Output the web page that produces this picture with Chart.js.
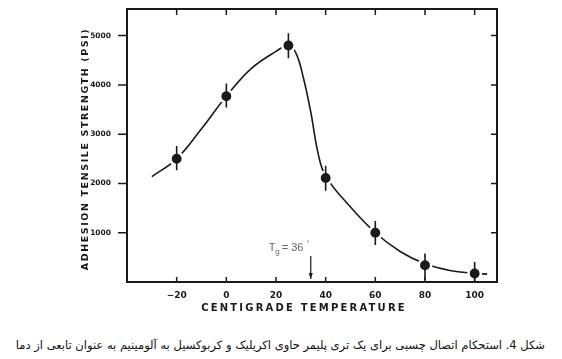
<!DOCTYPE html>
<html>
<head>
<meta charset="utf-8">
<script src="https://cdn.jsdelivr.net/npm/chart.js@4.4.0/dist/chart.umd.min.js"></script>
<style>
  html, body { margin: 0; padding: 0; background: #fff; }
  #wrap { position: relative; width: 562px; height: 359px; }
  #chart { position: absolute; left: 0; top: 0; }
  #caption {
    position: absolute; right: 17px; top: 338px;
    font-family: "DejaVu Sans", sans-serif; font-size: 11.5px; color: #111;
    direction: rtl; white-space: nowrap;
  }
</style>
</head>
<body>
<div id="wrap">
  <canvas id="chart" width="562" height="330"></canvas>
  <div id="caption">شکل 4. استحکام اتصال چسبی برای یک تری پلیمر حاوی اکریلیک و کربوکسیل به آلومینیم به عنوان تابعی از دما</div>
</div>
<script>
// measured points (temperature, strength) with error bars
const temps = [-20, 0, 25, 40, 60, 80, 100];
const strength = [2500, 3770, 4800, 2110, 1000, 340, 175];
const errPlus = [260, 260, 250, 250, 240, 240, 230];
const errMinus = [230, 230, 260, 260, 250, 300, 175];

// smooth fitted curve
const curveT = [-30, -20, -10, 0, 10, 20, 25, 28, 31, 34, 37, 40, 50, 60, 70, 80, 90, 100, 105];
const curveS = [2140, 2500, 3110, 3770, 4330, 4680, 4800, 4650, 4150, 3450, 2600, 2150, 1520, 1000, 620, 370, 235, 175, 160];

const xTicks = [-20, 0, 20, 40, 60, 80, 100];
const yTicks = [1000, 2000, 3000, 4000, 5000];
const tgTemp = 34;

const ink = '#1a1a1a';

const frameTicks = {
  id: 'frameTicks',
  afterDraw(chart) {
    const ctx = chart.ctx;
    const x = chart.scales.x, y = chart.scales.y;
    const a = chart.chartArea;
    ctx.save();
    ctx.strokeStyle = ink;
    ctx.lineWidth = 1.5;
    ctx.beginPath();
    xTicks.forEach(v => {
      const px = x.getPixelForValue(v);
      ctx.moveTo(px, a.top); ctx.lineTo(px, a.top + 6);
      ctx.moveTo(px, a.bottom); ctx.lineTo(px, a.bottom - 5);
    });
    yTicks.forEach(v => {
      const py = y.getPixelForValue(v);
      ctx.moveTo(a.left, py); ctx.lineTo(a.left - 9, py);
      ctx.moveTo(a.right, py); ctx.lineTo(a.right - 6, py);
    });
    ctx.stroke();

    // error bars
    ctx.lineWidth = 1.6;
    ctx.beginPath();
    temps.forEach((t, i) => {
      const px = x.getPixelForValue(t);
      ctx.moveTo(px, y.getPixelForValue(strength[i] + errPlus[i]));
      ctx.lineTo(px, y.getPixelForValue(strength[i] - errMinus[i]));
    });
    ctx.stroke();

    // Tg arrow
    const ax = x.getPixelForValue(tgTemp);
    const ay0 = a.bottom - 26, ay1 = a.bottom - 3;
    ctx.lineWidth = 1.2;
    ctx.beginPath();
    ctx.moveTo(ax, ay0); ctx.lineTo(ax, ay1);
    ctx.stroke();
    ctx.fillStyle = ink;
    ctx.beginPath();
    ctx.moveTo(ax - 2, ay1 - 6); ctx.lineTo(ax + 2, ay1 - 6); ctx.lineTo(ax, ay1);
    ctx.closePath(); ctx.fill();

    ctx.fillStyle = '#666';
    ctx.font = '11px "Liberation Sans", sans-serif';
    ctx.textAlign = 'left';
    ctx.textBaseline = 'alphabetic';
    ctx.fillText('T', ax - 42, ay0 - 5);
    ctx.font = '8px "Liberation Sans", sans-serif';
    ctx.fillText('g', ax - 35.5, ay0 - 2);
    ctx.font = '11px "Liberation Sans", sans-serif';
    ctx.fillText('= 36', ax - 29, ay0 - 5);
    ctx.font = '7px "Liberation Sans", sans-serif';
    ctx.fillText('°', ax - 4, ay0 - 10);

    // axis titles
    ctx.fillStyle = ink;
    ctx.font = 'bold 10px "DejaVu Sans", sans-serif';
    ctx.letterSpacing = '2.2px';
    ctx.textAlign = 'center';
    ctx.textBaseline = 'middle';
    ctx.fillText('CENTIGRADE TEMPERATURE', 304, 308);
    ctx.font = 'bold 9.5px "DejaVu Sans", sans-serif';
    ctx.translate(86, 149);
    ctx.rotate(-Math.PI / 2);
    ctx.letterSpacing = '1.6px';
    ctx.fillText('ADHESION TENSILE STRENGTH (PSI)', 0, 0);
    ctx.restore();
  }
};

function noPad(s) {
  s.paddingTop = 0; s.paddingBottom = 0; s.paddingLeft = 0; s.paddingRight = 0;
}

new Chart(document.getElementById('chart'), {
  type: 'scatter',
  data: {
    datasets: [
      {
        data: temps.map((t, i) => ({ x: t, y: strength[i] })),
        pointRadius: 6.2,
        pointHoverRadius: 6.2,
        pointBackgroundColor: ink,
        pointBorderColor: '#fff',
        pointBorderWidth: 2.5,
        order: 1
      },
      {
        data: curveT.map((t, i) => ({ x: t, y: curveS[i] })),
        showLine: true,
        borderColor: ink,
        borderWidth: 1.6,
        pointRadius: 0,
        tension: 0.4,
        order: 2
      }
    ]
  },
  options: {
    responsive: false,
    animation: false,
    events: [],
    layout: { padding: { left: 0, right: 65, top: 9, bottom: 0 } },
    plugins: { legend: { display: false }, tooltip: { enabled: false } },
    scales: {
      x: {
        type: 'linear', min: -40, max: 109,
        afterBuildTicks: s => { s.ticks = xTicks.map(v => ({ value: v })); },
        afterFit: s => { s.height = 48; noPad(s); },
        grid: { display: false },
        border: { display: true, color: ink, width: 2 },
        ticks: {
          color: ink, padding: 0,
          font: { family: '"DejaVu Sans", sans-serif', size: 9, weight: 'bold' },
          callback: v => (v < 0 ? '\u2212' + Math.abs(v) : '' + v)
        }
      },
      xTop: {
        type: 'linear', position: 'top', min: -40, max: 109,
        afterFit: s => { s.height = 0; noPad(s); },
        grid: { display: false },
        border: { display: true, color: ink, width: 2 },
        ticks: { display: false }
      },
      y: {
        type: 'linear', min: 0, max: 5540,
        afterBuildTicks: s => { s.ticks = yTicks.map(v => ({ value: v })); },
        afterFit: s => { s.width = 127; noPad(s); },
        grid: { display: false },
        border: { display: true, color: ink, width: 2 },
        ticks: {
          color: ink, padding: 8,
          font: { family: '"DejaVu Sans", sans-serif', size: 7.5, weight: 'bold' },
          callback: v => '' + v
        }
      },
      yRight: {
        type: 'linear', position: 'right', min: 0, max: 5540,
        afterFit: s => { s.width = 0; noPad(s); },
        grid: { display: false },
        border: { display: true, color: ink, width: 2 },
        ticks: { display: false }
      }
    }
  },
  plugins: [frameTicks]
});
</script>
</body>
</html>
